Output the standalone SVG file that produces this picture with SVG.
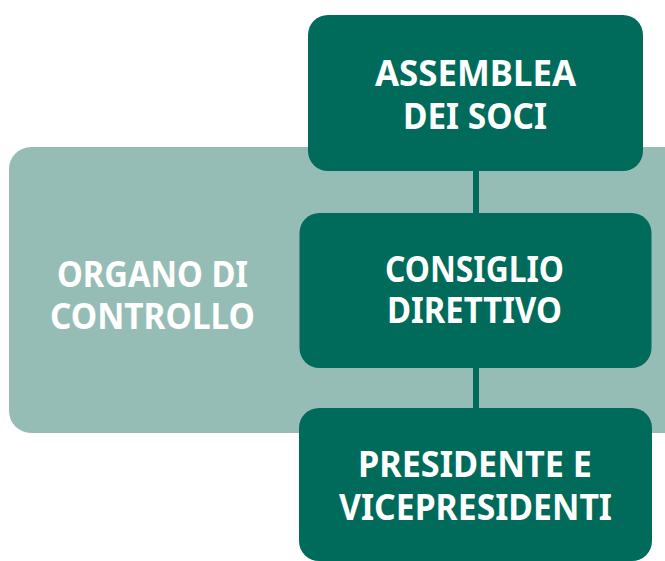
<svg xmlns="http://www.w3.org/2000/svg" width="665" height="561" viewBox="0 0 665 561">
<style>
.bg{fill:#96BDB5}
.box{fill:#006B5A}
.t{font-family:"Noto Sans","Open Sans",sans-serif;font-weight:bold;font-size:35px;fill:#ffffff;text-anchor:middle}
.c{stroke:#006B5A;stroke-width:6;fill:none}
</style>
<g id="organo">
<rect class="bg" x="9" y="147" width="680" height="286" rx="22"/>
<text class="t" x="152.5" y="287" textLength="191" lengthAdjust="spacingAndGlyphs">ORGANO DI</text>
<text class="t" x="152.5" y="329" textLength="205" lengthAdjust="spacingAndGlyphs">CONTROLLO</text>
</g>
<g id="connectors">
<line class="c" x1="476" y1="168" x2="476" y2="216"/>
<line class="c" x1="476" y1="365" x2="476" y2="411"/>
</g>
<g id="assemblea">
<rect class="box" x="308" y="15" width="335" height="156" rx="20"/>
<text class="t" x="475.5" y="86" textLength="201" lengthAdjust="spacingAndGlyphs">ASSEMBLEA</text>
<text class="t" x="475" y="129" textLength="144" lengthAdjust="spacingAndGlyphs">DEI SOCI</text>
</g>
<g id="consiglio">
<rect class="box" x="299.5" y="213" width="352" height="155" rx="20"/>
<text class="t" x="474.5" y="282" textLength="179" lengthAdjust="spacingAndGlyphs">CONSIGLIO</text>
<text class="t" x="474.5" y="323" textLength="175" lengthAdjust="spacingAndGlyphs">DIRETTIVO</text>
</g>
<g id="presidente">
<rect class="box" x="299" y="408" width="353" height="153" rx="20"/>
<text class="t" x="475" y="477" textLength="234" lengthAdjust="spacingAndGlyphs">PRESIDENTE E</text>
<text class="t" x="475.5" y="520" textLength="273" lengthAdjust="spacingAndGlyphs">VICEPRESIDENTI</text>
</g>
</svg>
